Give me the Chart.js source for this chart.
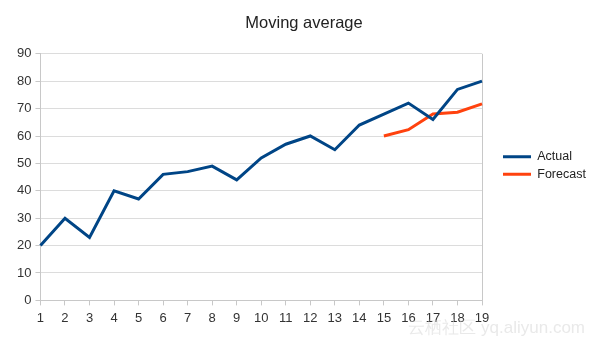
<!DOCTYPE html>
<html>
<head>
<meta charset="utf-8">
<script src="https://cdn.jsdelivr.net/npm/chart.js@4/dist/chart.umd.min.js"></script>
<style>
  html, body { margin: 0; padding: 0; background: #fff; }
  #wrap { width: 595px; height: 348px; position: relative; }
</style>
</head>
<body>
<div id="wrap"><canvas id="chart" width="595" height="348"></canvas></div>
<script>
// --- Data ---
const PERIODS = ["1", "2", "3", "4", "5", "6", "7", "8", "9", "10",
  "11", "12", "13", "14", "15", "16", "17", "18", "19"];
const ACTUAL = [20, 30, 23, 40, 37, 46, 47, 49, 44, 52, 57, 60, 55, 64, 68, 72, 66, 77, 80];
const FORECAST = [null, null, null, null, null, null, null, null, null, null,
  null, null, null, null, 60, 62.3, 68, 68.7, 71.7];
const Y_MIN = 0;
const Y_MAX = 90;
const Y_STEP = 10;

const FONT = "'Liberation Sans', Arial, sans-serif";
const BLUE = "#004586";
const ORANGE = "#ff420e";

// faint site watermark, bottom right
const watermark = {
  id: "watermark",
  afterDraw(chart) {
    const ctx = chart.ctx;
    ctx.save();
    ctx.font = "17px " + FONT;
    ctx.textAlign = "right";
    ctx.textBaseline = "middle";
    ctx.fillStyle = "rgba(215,215,215,0.55)";
    ctx.fillText("云栖社区 yq.aliyun.com", 585, 328);
    ctx.restore();
  },
};

new Chart(document.getElementById("chart"), {
  type: "line",
  data: {
    labels: PERIODS,
    datasets: [
      {
        label: "Actual",
        data: ACTUAL,
        borderColor: BLUE,
        backgroundColor: BLUE,
        borderWidth: 3,
        pointRadius: 0,
        tension: 0,
      },
      {
        label: "Forecast",
        data: FORECAST,
        borderColor: ORANGE,
        backgroundColor: ORANGE,
        borderWidth: 3,
        pointRadius: 0,
        tension: 0,
      },
    ],
  },
  options: {
    responsive: false,
    animation: false,
    layout: { padding: { left: 13, right: 0, top: 0, bottom: 17 } },
    plugins: {
      title: {
        display: true,
        text: "Moving average",
        color: "#222",
        font: { family: FONT, size: 16.5, weight: "normal" },
        padding: { top: 14, bottom: 20 },
      },
      legend: {
        position: "right",
        labels: {
          usePointStyle: true,
          pointStyle: "line",
          pointStyleWidth: 28,
          color: "#222",
          font: { family: FONT, size: 12.5 },
          padding: 5,
        },
      },
      tooltip: { enabled: false },
    },
    scales: {
      x: {
        offset: false,
        grid: {
          color: (c) => (c.index === 0 || c.index === PERIODS.length - 1 ? "#c8c8c8" : "rgba(0,0,0,0)"),
          tickColor: "#c8c8c8",
          tickLength: 5,
          drawOnChartArea: true,
        },
        border: { color: "#c8c8c8" },
        ticks: {
          color: "#333",
          font: { family: FONT, size: 13 },
          maxRotation: 0,
          autoSkip: false,
          padding: 5,
        },
      },
      y: {
        min: Y_MIN,
        max: Y_MAX,
        grid: { color: "#dcdcdc", tickColor: "#c8c8c8", tickLength: 5 },
        border: { color: "#c8c8c8" },
        ticks: {
          stepSize: Y_STEP,
          color: "#333",
          font: { family: FONT, size: 13 },
          padding: 4,
        },
      },
      // empty spacer between plot and legend
      gap: {
        position: "right",
        display: true,
        grid: { display: false },
        border: { display: false },
        ticks: { display: false },
        afterFit: (s) => { s.width = 16; },
      },
    },
  },
  plugins: [watermark],
});
</script>
</body>
</html>
